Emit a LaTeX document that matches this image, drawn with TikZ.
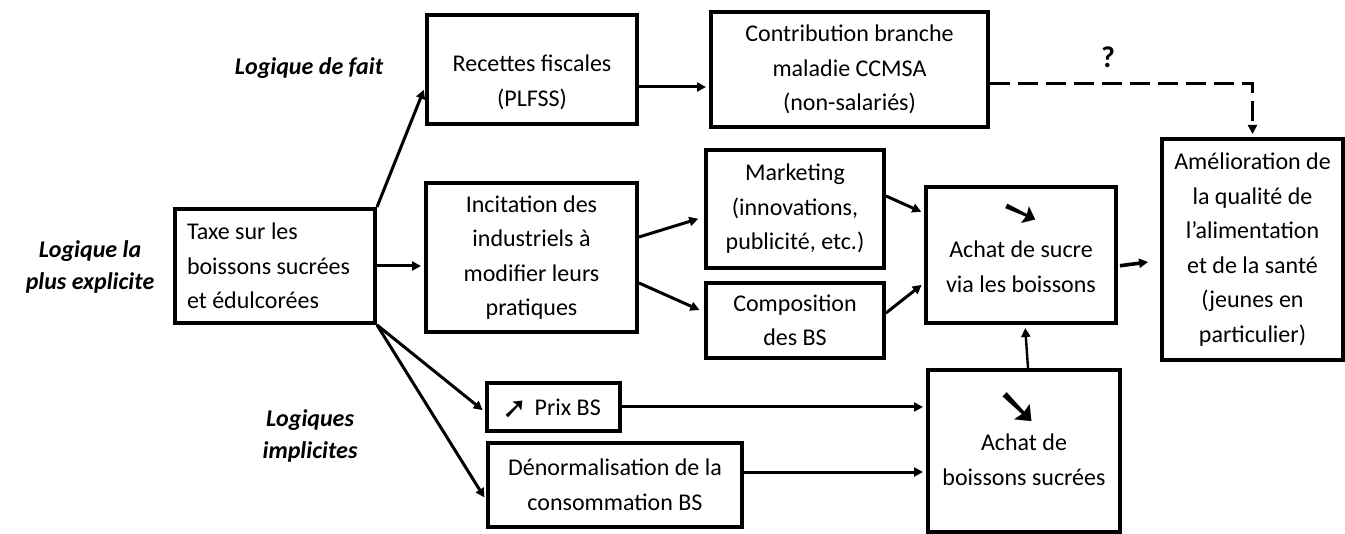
\documentclass[tikz,border=0pt]{standalone}
\usepackage{fontspec}
\setmainfont{Carlito}
\newfontfamily\symfont{DejaVu Sans}
\usetikzlibrary{positioning,arrows.meta}
\tikzstyle{box}     = [rectangle, draw, line width=2pt, align=center, inner sep=0pt,
                       font=\fontsize{12}{17.25}\selectfont]
\tikzstyle{lbl}     = [align=center, font=\fontsize{12}{16}\selectfont\bfseries\itshape]
\tikzstyle{ptr}     = [draw, line width=1.5pt, -{Triangle[length=4.5pt,width=4.5pt]}, shorten >=1.5pt]
\tikzstyle{dashptr} = [ptr, dash pattern=on 10pt off 4pt]
% heavy arrow glyph: size, angle, raise, height of its row
\newcommand{\arrglyph}[4]{\smash{\raisebox{#3}{$\vcenter{\hbox{\symfont\fontsize{#1}{#1}\selectfont\rotatebox{#2}{➘}}}$}}\rule{0pt}{#4}}

\begin{document}
\begin{tikzpicture}[x=0.5pt, y=-0.5pt, node distance=2cm]
        \useasboundingbox (0,0) rectangle (1345,534);
        \node[lbl] (fait) at (309,68) {Logique de fait};
        \node[lbl] (explicite) at (90,267) {Logique la\\plus explicite};
        \node[lbl] (implicites) at (310,436) {Logiques\\implicites};

        \node[box, align=flush left, text width=88pt, inner xsep=6pt, minimum height=57pt] (taxe) at (275,266)
            {Taxe sur les\\boissons sucrées\\et édulcorées};
        \node[box, minimum width=105pt, minimum height=54.5pt] (rec) at (532,69.5)
            {{}\\[4pt]Recettes fiscales\\(PLFSS)};
        \node[box, minimum width=138.5pt, minimum height=57.5pt] (contrib) at (849.5,69.5)
            {Contribution branche\\maladie CCMSA\\(non-salariés)};
        \node[box, minimum width=105.5pt, minimum height=74.5pt] (incit) at (531.5,257.5)
            {Incitation des\\industriels à\\modifier leurs\\pratiques};
        \node[box, minimum width=89pt, minimum height=59pt] (mark) at (795,209)
            {Marketing\\(innovations,\\publicité, etc.)};
        \node[box, minimum width=89pt, minimum height=37.5pt, below of=mark, node distance=55.75pt] (compo)
            {Composition\\des BS};
        \node[box, minimum width=95pt, minimum height=68pt] (sucre) at (1021,255)
            {\arrglyph{22}{20}{1.75pt}{3pt}\\Achat de sucre\\via les boissons};
        \node[box, minimum width=90.5pt, minimum height=110.5pt] (amelio) at (1252.5,249.5)
            {Amélioration de\\la qualité de\\l’alimentation\\et de la santé\\(jeunes en\\particulier)};
        \node[box, minimum width=66.5pt, minimum height=24pt] (prix) at (553.5,407)
            {\arrglyph{15}{90}{0pt}{0pt}\hspace{5pt}Prix BS};
        \node[box, minimum width=127pt, minimum height=42pt] (denorm) at (615,485)
            {Dénormalisation de la\\consommation BS};
        \node[box, minimum width=96pt, minimum height=81pt] (boiss) at (1024,451)
            {\kern-6pt\arrglyph{26}{0}{1pt}{0pt}\\Achat de\\boissons sucrées};
        \node[font=\fontsize{15}{17}\selectfont\bfseries] (q) at (1108,57) {?};

        \draw[ptr] (taxe.north east) -- ([yshift=-8.75pt]rec.west);
        \draw[ptr] (taxe.east) -- (taxe.east -| incit.west);
        \draw[ptr] ([yshift=-8.75pt]rec.east) -- ([yshift=-8.75pt]contrib.west);
        \draw[dashptr] ([yshift=-7.25pt]contrib.east) -| (amelio.north);
        \draw[ptr, shorten >=3pt] ([yshift=10.25pt]incit.east) -- ([yshift=-4pt]mark.west);
        \draw[ptr, shorten >=2.5pt] ([yshift=-12.75pt]incit.east) -- ([yshift=4.25pt]compo.west);
        \draw[ptr] ([yshift=6.5pt]mark.east) -- ([yshift=21pt]sucre.west);
        \draw[ptr] ([yshift=3.75pt]compo.east) -- ([yshift=-14pt]sucre.west);
        \draw[ptr, line width=1.8pt, shorten <=1pt, shorten >=6pt] ([yshift=-5.5pt]sucre.east) -- ([yshift=-5.5pt]amelio.west);
        \draw[ptr, line width=1.2pt] ([xshift=2pt]boiss.north) -- ([xshift=2pt]sucre.south);
        \draw[ptr] (taxe.south east) -- ([yshift=-2.5pt]prix.west);
        \draw[ptr] (taxe.south east) -- ([yshift=-7.5pt]denorm.west);
        \draw[ptr] (prix.east) -- (prix.east -| boiss.west);
        \draw[ptr] ([yshift=6.5pt]denorm.east) -- ([yshift=6.5pt]denorm.east -| boiss.west);
\end{tikzpicture}
\end{document}
